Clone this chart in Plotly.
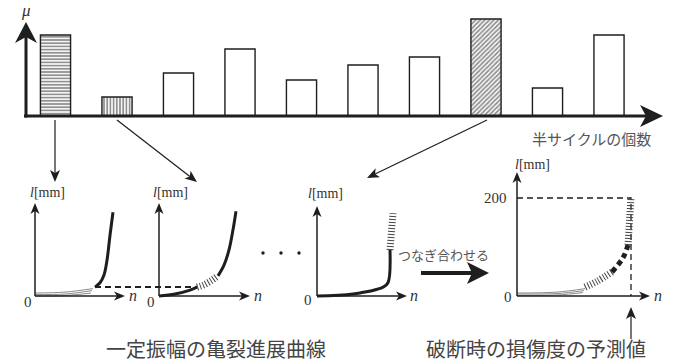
import math
import plotly.graph_objects as go

W, H = 677, 363
INK = "#1e1e1e"
GRAY = "#8a8a8a"
SERIF = "Liberation Serif, DejaVu Serif, serif"
JP = "Noto Sans CJK JP"

# ---------------- data ----------------
# top chart: amplitude of each half cycle
cycles = list(range(1, 11))
mu = [8.1, 1.9, 4.3, 6.7, 3.6, 5.1, 5.9, 9.7, 2.8, 8.1]
patterns = ["-", "|", "", "", "", "", "", "/", "", ""]

# crack growth curves (n, l[mm])
c1_gray = [([0, 30, 56], [0, 1, 6]), ([0, 30, 57], [3, 4, 11]), ([0, 30, 58], [6, 8, 15])]
c1_black_n = [60, 65, 69, 72, 75, 78]
c1_black_l = [18, 27, 43, 73, 124, 171]

c2_black_a_n = [0, 16, 31, 38]
c2_black_a_l = [0, 4, 12, 18]
c2_hatch_n = [38, 45, 52, 59]
c2_hatch_l = [18, 23, 31, 41]
c2_black_b_n = [59, 65, 70, 74, 77]
c2_black_b_l = [41, 63, 94, 135, 173]

c3_black_n = [0, 36, 66, 71, 73]
c3_black_l = [0, 4, 18, 27, 94]
c3_hatch_n = [73, 76]
c3_hatch_l = [94, 169]

c4_gray = [([0, 40, 66], [1, 2, 7]), ([0, 40, 67], [4, 5, 11]), ([0, 40, 68], [6, 8, 15])]
c4_hatch_a_n = [68, 80, 95]
c4_hatch_a_l = [18, 30, 49]
c4_dash_n = [95, 106, 111]
c4_dash_l = [49, 78, 104]
c4_hatch_b_n = [111, 114]
c4_hatch_b_l = [104, 200]
c4_guide_n = [0, 114, 114]
c4_guide_l = [200, 200, 0]

# ---------------- helpers ----------------
def px(x):
    return x / W

def py(y):
    return 1 - y / H

shapes = []
annotations = []

def seg(x0, y0, x1, y1, w=1.5, color=INK, dash=None):
    ln = dict(color=color, width=w)
    if dash:
        ln["dash"] = dash
    shapes.append(dict(type="line", xref="paper", yref="paper", x0=px(x0), y0=py(y0),
                       x1=px(x1), y1=py(y1), line=ln, layer="above"))

def arrow(x0, y0, x1, y1, w=1.5, hl=10, hw=4.5, notch=3, color=INK):
    dx, dy = x1 - x0, y1 - y0
    L = math.hypot(dx, dy)
    ux, uy = dx / L, dy / L
    nx, ny = -uy, ux
    bx, by = x1 - ux * hl, y1 - uy * hl
    mx, my = x1 - ux * (hl - notch), y1 - uy * (hl - notch)
    seg(x0, y0, mx, my, w, color)
    pts = [(x1, y1), (bx + nx * hw, by + ny * hw), (mx, my), (bx - nx * hw, by - ny * hw)]
    path = "M " + " L ".join(f"{px(a):.5f},{py(b):.5f}" for a, b in pts) + " Z"
    shapes.append(dict(type="path", xref="paper", yref="paper", path=path,
                       fillcolor=color, line=dict(width=0), layer="above"))

def text(s, x, y, size=14, font=SERIF, color="#333", xanchor="center"):
    annotations.append(dict(text=s, x=px(x), y=py(y), xref="paper", yref="paper",
                            showarrow=False, xanchor=xanchor, yanchor="middle",
                            font=dict(family=font, size=size, color=color)))

fig = go.Figure()

# ---------------- top bar chart ----------------
c_first, c_step = 55.5, 61.5
fig.add_trace(go.Bar(
    x=cycles, y=mu, width=0.49, xaxis="x", yaxis="y",
    marker=dict(color="white", line=dict(color=INK, width=1.4),
                pattern=dict(shape=patterns, fgcolor="#222", bgcolor="white",
                             size=3.2, solidity=0.55, fillmode="overlay")),
    showlegend=False, hoverinfo="skip"))

layout_axes = dict(
    xaxis=dict(domain=[0, 1], range=[1 - c_first / c_step, 1 + (W - c_first) / c_step],
               visible=False, fixedrange=True),
    yaxis=dict(domain=[py(116), py(16)], range=[0, 10], visible=False, fixedrange=True),
)

# ---------------- sub charts ----------------
OY = 296
SCALE_L = 0.49  # px per mm
origins = [35, 159, 317, 517]
for i, ox in enumerate(origins, start=2):
    layout_axes[f"xaxis{i}"] = dict(domain=[px(ox - 10), px(ox + 140)], range=[-10, 140],
                                    visible=False, fixedrange=True, anchor=f"y{i}")
    layout_axes[f"yaxis{i}"] = dict(domain=[py(OY + 10), py(OY - 132)],
                                    range=[-10 / SCALE_L, 132 / SCALE_L],
                                    visible=False, fixedrange=True, anchor=f"x{i}")

def line_trace(n, l, ax, color=INK, width=3, dash=None, shape="spline"):
    ln = dict(color=color, width=width, shape=shape)
    if dash:
        ln["dash"] = dash
    fig.add_trace(go.Scatter(x=n, y=l, mode="lines", line=ln, xaxis=f"x{ax}", yaxis=f"y{ax}",
                             showlegend=False, hoverinfo="skip"))

HATCH = dict(color="#444", width=7, dash="1px,2px")

# chart 1
for n, l in c1_gray:
    line_trace(n, l, 2, color=GRAY, width=1)
line_trace(c1_black_n, c1_black_l, 2)
# chart 2
line_trace(c2_black_a_n, c2_black_a_l, 3)
line_trace(c2_hatch_n, c2_hatch_l, 3, **HATCH)
line_trace(c2_black_b_n, c2_black_b_l, 3)
# chart 3
line_trace(c3_black_n, c3_black_l, 4)
line_trace(c3_hatch_n, c3_hatch_l, 4, shape="linear", **HATCH)
# chart 4
line_trace(c4_guide_n, c4_guide_l, 5, color=INK, width=1.3, dash="6px,4px", shape="linear")
for n, l in c4_gray:
    line_trace(n, l, 5, color=GRAY, width=1)
line_trace(c4_hatch_a_n, c4_hatch_a_l, 5, **HATCH)
line_trace(c4_dash_n, c4_dash_l, 5, color=INK, width=5, dash="5px,4px")
line_trace(c4_hatch_b_n, c4_hatch_b_l, 5, shape="linear", **HATCH)

# ---------------- axes / arrows ----------------
arrow(26, 117.5, 26, 22, w=3, hl=21, hw=11, notch=6)
arrow(24, 116, 663, 116, w=3, hl=23, hw=11, notch=6)

tops = [203, 203, 206, 172]
tips = [125, 250, 407, 650]
for ox, t, r in zip(origins, tops, tips):
    arrow(ox, OY, ox, t, w=1.5, hl=11, hw=4.5, notch=3)
    arrow(ox, OY, r, OY, w=1.5, hl=11, hw=4.5, notch=3)

# connectors
arrow(55, 120, 55, 182, w=1.2, hl=12, hw=5, notch=3)
arrow(117, 120, 197, 182, w=1.2, hl=12, hw=5, notch=3)
arrow(487, 120, 367, 178, w=1.2, hl=12, hw=5, notch=3)
arrow(631, 339, 631, 307, w=1.2, hl=12, hw=5, notch=3)
arrow(421, 273, 489, 273, w=4, hl=22, hw=11, notch=5)
seg(95, 287, 197, 287, w=2, dash="6px,4px")

for xd in (263, 281, 299):
    shapes.append(dict(type="circle", xref="paper", yref="paper",
                       x0=px(xd - 1.7), x1=px(xd + 1.7), y0=py(253 + 1.7), y1=py(253 - 1.7),
                       fillcolor=INK, line=dict(width=0)))

# ---------------- texts ----------------
text("<i>μ</i>", 26, 10, size=17)
text("半サイクルの個数", 591, 138, size=15, font=JP, color="#555")
for lx, ly in [(47, 192), (170, 192), (325, 193), (532, 164)]:
    text("<i>l</i>[mm]", lx, ly, size=14)
for zx, zy in [(28, 302), (151, 302), (308, 300), (508, 297)]:
    text("0", zx, zy, size=15)
text("200", 495, 198, size=15)
for nx_, ny_ in [(133, 295), (258, 295), (414, 295), (658, 295)]:
    text("<i>n</i>", nx_, ny_, size=16)
text("つなぎ合わせる", 443, 254, size=13, font=JP, color="#555")
text("一定振幅の亀裂進展曲線", 216, 348, size=20, font=JP, color="#444")
text("破断時の損傷度の予測値", 536, 348, size=20, font=JP, color="#444")

fig.update_layout(
    width=W, height=H, margin=dict(l=0, r=0, t=0, b=0),
    paper_bgcolor="white", plot_bgcolor="rgba(0,0,0,0)",
    shapes=shapes, annotations=annotations, showlegend=False,
    **layout_axes,
)
fig.write_html("out.html", config={"displayModeBar": False},
               post_script="document.body.style.margin='0';document.body.style.overflow='hidden';")
